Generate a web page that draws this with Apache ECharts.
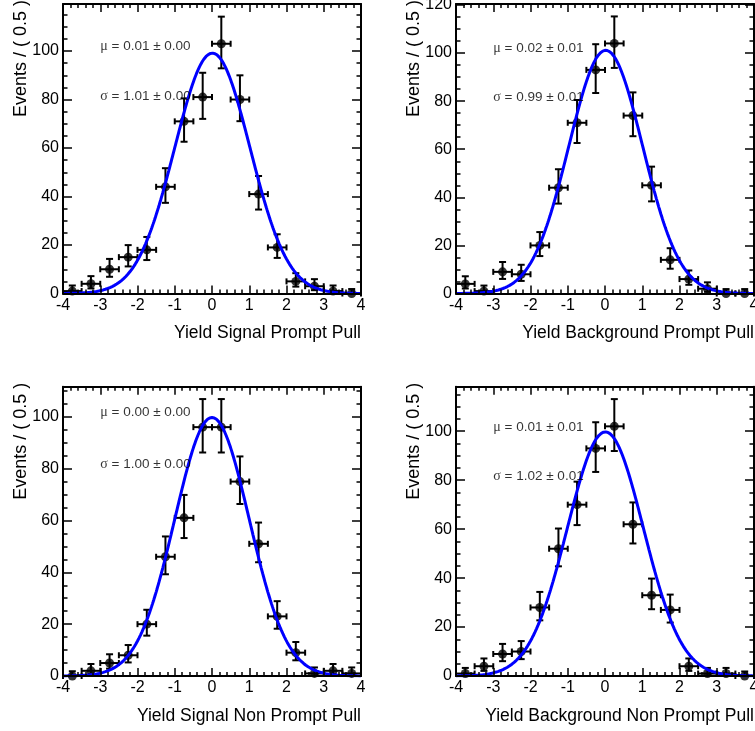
<!DOCTYPE html>
<html><head><meta charset="utf-8">
<script src="https://cdn.jsdelivr.net/npm/echarts@6/dist/echarts.min.js"></script>
<style>html,body{margin:0;padding:0;background:#fff}#c{width:755px;height:731px}</style>
</head><body><div id="c"></div>
<script>
// ---- data ----
const binCenters = [-3.75,-3.25,-2.75,-2.25,-1.75,-1.25,-0.75,-0.25,0.25,0.75,1.25,1.75,2.25,2.75,3.25,3.75];
const binHalfWidth = 0.25;
const countsSignalPrompt        = [1,4,10,15,18,44,71,81,103,80,41,19,5,3,1,0];
const countsBackgroundPrompt    = [4,1,9,8,20,44,71,93,104,74,45,14,6,2,0,0];
const countsSignalNonPrompt     = [0,2,5,8,20,46,61,96,96,75,51,23,9,1,2,1];
const countsBackgroundNonPrompt = [1,4,9,10,28,52,70,93,102,62,33,27,4,1,1,0];
const fitMu    = [0.01, 0.02, 0.00, 0.01];
const fitSigma = [1.01, 0.99, 1.00, 1.02];
const fitEvents = [502, 502, 500, 510];
const muTexts    = ['= 0.01 ± 0.00', '= 0.02 ± 0.01', '= 0.00 ± 0.00', '= 0.01 ± 0.01'];
const sigmaTexts = ['= 1.01 ± 0.00', '= 0.99 ± 0.01', '= 1.00 ± 0.00', '= 1.02 ± 0.01'];
const xTitles = ['Yield Signal Prompt Pull', 'Yield Background Prompt Pull',
                 'Yield Signal Non Prompt Pull', 'Yield Background Non Prompt Pull'];
const yTitle = 'Events / ( 0.5 )';
const yMaxes = [119.4, 120.4, 111.6, 118.2];
const xMin = -4, xMax = 4;
const annotX = -3.0, muY = 101.8, sigmaY = 81.5;

const allCounts = [countsSignalPrompt, countsBackgroundPrompt, countsSignalNonPrompt, countsBackgroundNonPrompt];

// ---- layout ----
const grids = [
  {left: 63,  top: 4,     width: 298, height: 289.5},
  {left: 456, top: 4,     width: 298, height: 289.5},
  {left: 63,  top: 386.7, width: 298, height: 289.3},
  {left: 456, top: 386.7, width: 298, height: 289.3}
];
const FONT = "'Liberation Sans', Arial, Helvetica, sans-serif";

// Poisson 68% interval (as RooFit draws it)
function poisCdf(n, mu) { // P(X<=n)
  let term = Math.exp(-mu), s = term;
  for (let k = 1; k <= n; k++) { term *= mu / k; s += term; }
  return s;
}
function bisect(f, a, b) { for (let i = 0; i < 80; i++) { const m = (a + b) / 2; if (f(m) > 0) a = m; else b = m; } return (a + b) / 2; }
function poisErr(n) {
  const a = 0.158655;
  const up = bisect(mu => poisCdf(n, mu) - a, n, n + 20 + 5 * Math.sqrt(n + 1)) - n;
  const lo = n === 0 ? 0 : n - bisect(mu => (1 - poisCdf(n - 1, mu)) < a ? 1 : -1, 0, n);
  return [lo, up];
}

const grid = [], xAxis = [], yAxis = [], series = [];
const lineStyle = {color: '#000', width: 2};
const tickStyle = {color: '#000', width: 1.5};

for (let p = 0; p < 4; p++) {
  grid.push(Object.assign({containLabel: false, outerBoundsMode: 'none'}, grids[p]));
  const xb = xAxis.length;
  xAxis.push({
    type: 'value', gridIndex: p, min: xMin, max: xMax, interval: 1, position: 'bottom', z: 10,
    axisLine: {show: true, onZero: false, lineStyle},
    axisTick: {show: true, inside: true, length: 8, lineStyle: tickStyle},
    minorTick: {show: true, splitNumber: 5, length: 4, lineStyle: tickStyle},
    axisLabel: {show: true, color: '#000', fontSize: 16, fontFamily: FONT, margin: 4, showMinLabel: true, showMaxLabel: true},
    splitLine: {show: false},
    name: xTitles[p], nameLocation: 'end', nameGap: 0, nameMoveOverlap: false, nameTruncate: {maxWidth: 400},
    nameTextStyle: {color: '#000', fontSize: 17.5, fontFamily: FONT, align: 'right', verticalAlign: 'top', lineHeight: 18, padding: [31, 0, 0, 0]}
  });
  xAxis.push({
    type: 'value', gridIndex: p, min: xMin, max: xMax, interval: 1, position: 'top', z: 10,
    axisLine: {show: true, onZero: false, lineStyle},
    axisTick: {show: true, inside: true, length: 8, lineStyle: tickStyle},
    minorTick: {show: true, splitNumber: 5, length: 4, lineStyle: tickStyle},
    axisLabel: {show: false}, splitLine: {show: false}
  });
  const yb = yAxis.length;
  const yMax = yMaxes[p];
  const majorFmt = v => (Math.abs(v / 20 - Math.round(v / 20)) < 1e-6 ? String(Math.round(v)) : '');
  yAxis.push({
    type: 'value', gridIndex: p, min: 0, max: yMax, interval: 20, position: 'left', z: 10,
    axisLine: {show: true, onZero: false, lineStyle},
    axisTick: {show: true, inside: true, length: 9, lineStyle: tickStyle},
    axisLabel: {show: true, color: '#000', fontSize: 16, fontFamily: FONT, margin: 4, formatter: majorFmt, showMaxLabel: true},
    splitLine: {show: false},
    name: yTitle, nameLocation: 'end', nameGap: 4, nameRotate: 90, nameMoveOverlap: false,
    nameTextStyle: {color: '#000', fontSize: 18, fontFamily: FONT, align: 'right', verticalAlign: 'bottom', lineHeight: 18, padding: [0, 0, 33, 0]}
  });
  yAxis.push({
    type: 'value', gridIndex: p, min: 0, max: yMax, interval: 5, position: 'left', z: 10,
    axisLine: {show: false, onZero: false},
    axisTick: {show: true, inside: true, length: 4.5, lineStyle: tickStyle},
    axisLabel: {show: false}, splitLine: {show: false}
  });
  yAxis.push({
    type: 'value', gridIndex: p, min: 0, max: yMax, interval: 20, position: 'right', z: 10,
    axisLine: {show: true, onZero: false, lineStyle},
    axisTick: {show: true, inside: true, length: 9, lineStyle: tickStyle},
    axisLabel: {show: false}, splitLine: {show: false}
  });
  yAxis.push({
    type: 'value', gridIndex: p, min: 0, max: yMax, interval: 5, position: 'right', z: 10,
    axisLine: {show: false, onZero: false},
    axisTick: {show: true, inside: true, length: 4.5, lineStyle: tickStyle},
    axisLabel: {show: false}, splitLine: {show: false}
  });

  const counts = allCounts[p];
  const pts = binCenters.map((x, i) => {
    const [lo, up] = poisErr(counts[i]);
    return [x, counts[i], lo, up];
  });
  // error bars
  series.push({
    type: 'custom', xAxisIndex: xb, yAxisIndex: yb, z: 3, clip: false,
    data: pts,
    renderItem: function (params, api) {
      const x = api.value(0), y = api.value(1), lo = api.value(2), up = api.value(3);
      const pL = api.coord([x - binHalfWidth, y]), pR = api.coord([x + binHalfWidth, y]);
      const pT = api.coord([x, y + up]), pB = api.coord([x, y - lo]);
      const st = {stroke: '#000', lineWidth: 2};
      const cy = 3, cx = 3.5;
      const kids = [
        {type: 'line', shape: {x1: pL[0], y1: pL[1], x2: pR[0], y2: pR[1]}, style: st},
        {type: 'line', shape: {x1: pL[0], y1: pL[1] - cy, x2: pL[0], y2: pL[1] + cy}, style: st},
        {type: 'line', shape: {x1: pR[0], y1: pR[1] - cy, x2: pR[0], y2: pR[1] + cy}, style: st},
        {type: 'line', shape: {x1: pT[0], y1: pT[1], x2: pB[0], y2: pB[1]}, style: st},
        {type: 'line', shape: {x1: pT[0] - cx, y1: pT[1], x2: pT[0] + cx, y2: pT[1]}, style: st}
      ];
      if (lo > 0) kids.push({type: 'line', shape: {x1: pB[0] - cx, y1: pB[1], x2: pB[0] + cx, y2: pB[1]}, style: st});
      return {type: 'group', children: kids};
    }
  });
  // points
  series.push({
    type: 'scatter', xAxisIndex: xb, yAxisIndex: yb, z: 4,
    symbol: 'circle', symbolSize: 9, itemStyle: {color: '#000'},
    data: pts.map(d => [d[0], d[1]]), clip: false
  });
  // gaussian fit curve from the displayed fit parameters
  const curve = [];
  for (let k = 0; k <= 400; k++) {
    const x = xMin + (xMax - xMin) * k / 400;
    const z = (x - fitMu[p]) / fitSigma[p];
    curve.push([x, fitEvents[p] * 2 * binHalfWidth * Math.exp(-0.5 * z * z) / (fitSigma[p] * Math.sqrt(2 * Math.PI))]);
  }
  series.push({
    type: 'line', xAxisIndex: xb, yAxisIndex: yb, z: 5, showSymbol: false, symbol: 'none',
    lineStyle: {color: '#0000ff', width: 3}, data: curve, animation: false
  });
  // fit parameter annotations
  series.push({
    type: 'scatter', xAxisIndex: xb, yAxisIndex: yb, z: 6, symbolSize: 0, silent: true,
    data: [
      {value: [annotX, muY], label: {formatter: '{g|μ} ' + muTexts[p]}},
      {value: [annotX, sigmaY], label: {formatter: '{g|σ} ' + sigmaTexts[p]}}
    ],
    label: {show: true, position: [0, 0], align: 'left', verticalAlign: 'middle',
      color: '#000', fontSize: 13.5, fontFamily: FONT,
      rich: {g: {fontFamily: "'Liberation Serif', 'DejaVu Serif', serif", fontSize: 14, color: '#000'}}}
  });
}

const chart = echarts.init(document.getElementById('c'), null, {renderer: 'canvas'});
chart.setOption({animation: false, backgroundColor: '#fff', grid, xAxis, yAxis, series});
</script>
</body></html>
